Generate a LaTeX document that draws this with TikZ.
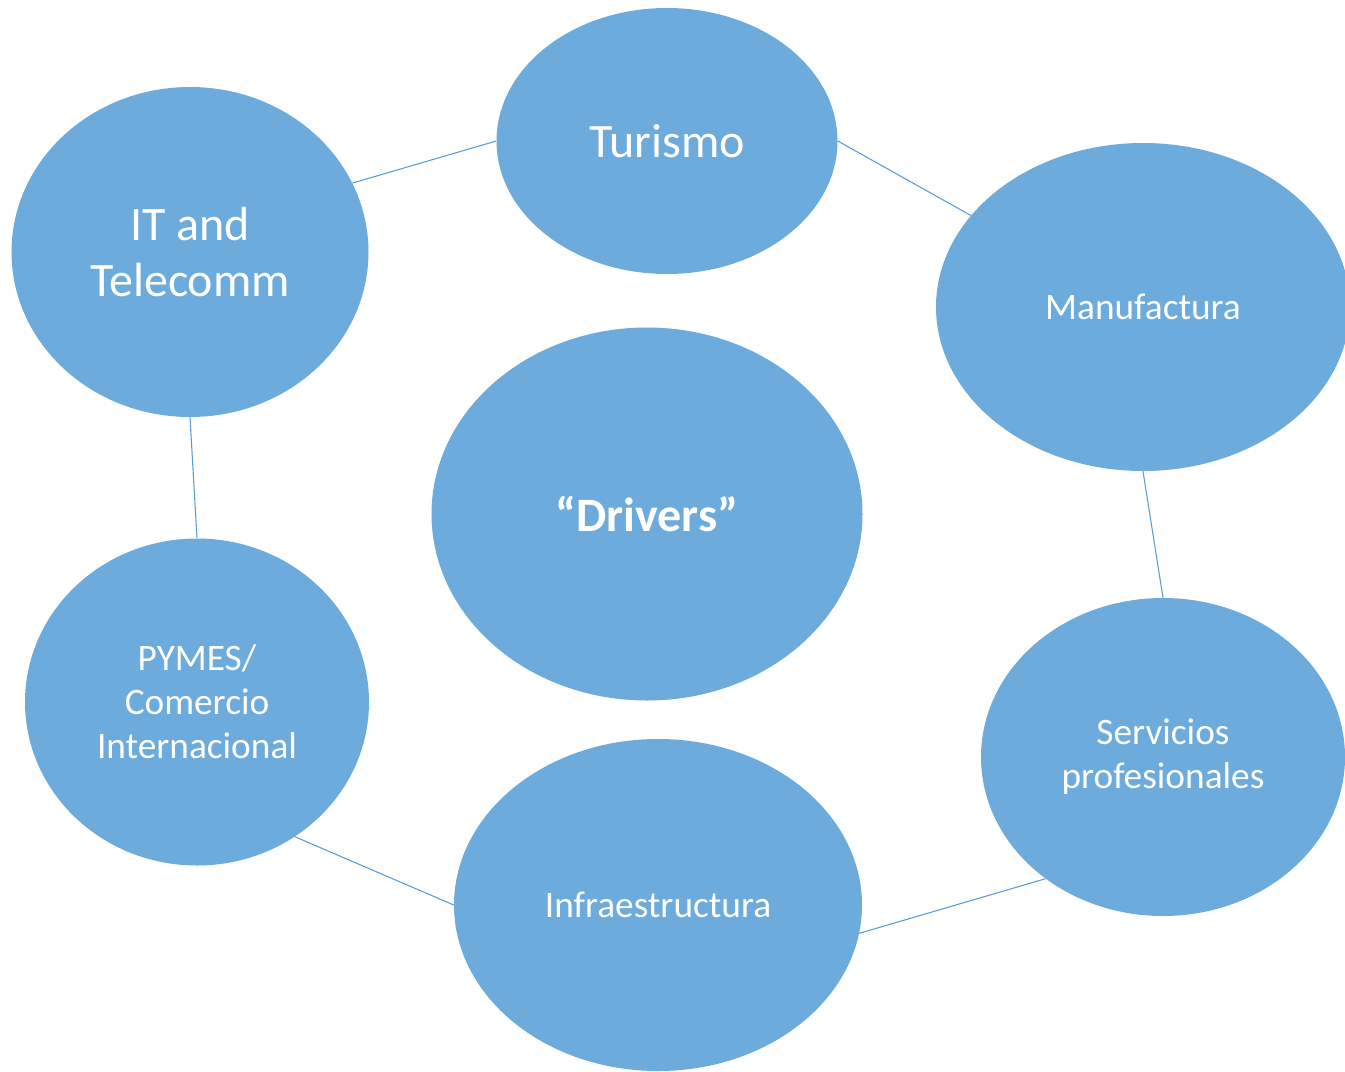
\documentclass[tikz,border=0pt]{standalone}
\usepackage{fontspec}
\setmainfont{Carlito}
\usepackage{tikz}
\usetikzlibrary{shapes.geometric}

\definecolor{bubblefill}{RGB}{108,171,220}
\definecolor{linkblue}{RGB}{91,155,213}

\begin{document}
\begin{tikzpicture}[x=0.75pt, y=-0.75pt]
        % Styles
        \tikzstyle{bubble} = [ellipse, fill=bubblefill, text=white,
            inner sep=0pt, align=center]
        \tikzstyle{bigtext} = [font=\fontsize{36pt}{42pt}\selectfont]
        \tikzstyle{smalltext} = [font=\fontsize{28pt}{33pt}\selectfont]
        \tikzstyle{line} = [draw=linkblue, line width=0.8pt]

        \useasboundingbox (0,0) rectangle (1345,1071);

        % Nodes
        \node [bubble, bigtext, minimum width=255.75pt, minimum height=199.5pt] (turismo) at (667,141) {Turismo};
        \node [bubble, bigtext, minimum width=267.75pt, minimum height=247.5pt] (itcom) at (190,252) {IT and\\Telecomm};
        \node [bubble, smalltext, minimum width=310.5pt, minimum height=246pt] (manuf) at (1143,307) {Manufactura};
        \node [bubble, bigtext, minimum width=323.25pt, minimum height=279.75pt] (drivers) at (647,514) {\bfseries “Drivers”};
        \node [bubble, smalltext, minimum width=258pt, minimum height=245.25pt] (pymes) at (197,702) {PYMES/\\Comercio\\Internacional};
        \node [bubble, smalltext, minimum width=273pt, minimum height=238.5pt] (servicios) at (1163,757) {Servicios\\profesionales};
        \node [bubble, smalltext, minimum width=306pt, minimum height=249pt] (infra) at (658,905) {Infraestructura};

        % Connections
        \path [line] (itcom.23) -- (turismo.west);
        \path [line] (turismo.east) -- (manuf.152);
        \path [line] (manuf.south) -- (servicios.north);
        \path [line] (servicios.226) -- (infra.352);
        \path [line] (infra.west) -- (pymes.306);
        \path [line] (pymes.north) -- (itcom.south);
    \end{tikzpicture}
\end{document}
